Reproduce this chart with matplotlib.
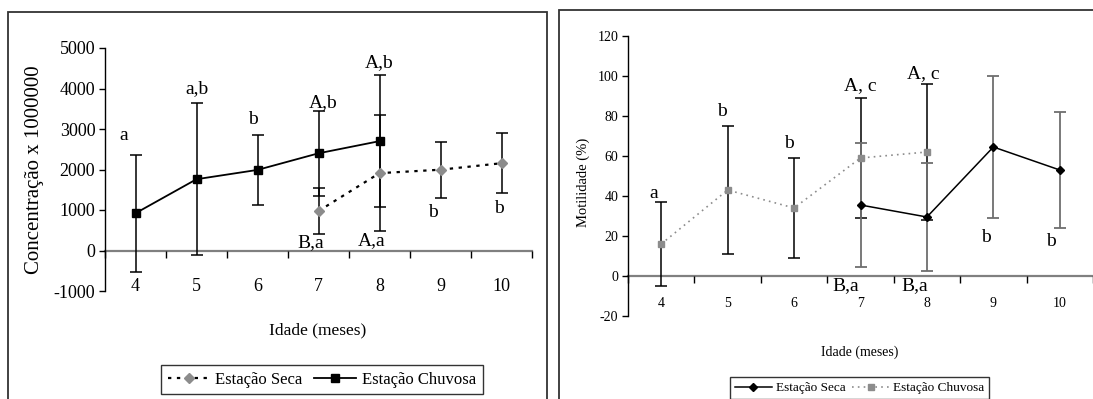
import matplotlib
matplotlib.use("Agg")
import matplotlib.pyplot as plt
from matplotlib.patches import Rectangle

plt.rcParams['font.family'] = ['Liberation Serif', 'DejaVu Serif']

# ---------------- data ----------------
meses = [4, 5, 6, 7, 8, 9, 10]

conc_chuvosa_x = [4, 5, 6, 7, 8]
conc_chuvosa = [920, 1760, 1990, 2400, 2700]
conc_chuvosa_err = [1450, 1880, 860, 1050, 1630]
conc_seca_x = [7, 8, 9, 10]
conc_seca = [975, 1910, 1995, 2155]
conc_seca_err = [575, 1440, 695, 740]

mot_chuvosa_x = [4, 5, 6, 7, 8]
mot_chuvosa = [16, 43, 34, 59, 62]
mot_chuvosa_err = [21, 32, 25, 30, 34]
mot_seca_x = [7, 8, 9, 10]
mot_seca = [35.5, 29.5, 64.5, 53]
mot_seca_err = [31, 27, 35.5, 29]

conc_letters = ["a", "a,b", "b", "A,b", "A,b", "B,a", "A,a", "b", "b"]
mot_letters = ["a", "b", "b", "A, c", "A, c", "B,a", "B,a", "b", "b"]

conc_yticks = [-1000, 0, 1000, 2000, 3000, 4000, 5000]
mot_yticks = [-20, 0, 20, 40, 60, 80, 100, 120]

# ---------------- layout ----------------
W, H = 1093, 399
fig = plt.figure(figsize=(W / 100, H / 100), dpi=100)

def frac_rect(x0, y0, x1, y1):
    return [x0 / W, 1 - y1 / H, (x1 - x0) / W, (y1 - y0) / H]

axL = fig.add_axes(frac_rect(105, 48, 532, 291))
axR = fig.add_axes(frac_rect(628, 36, 1093, 316))

GRAY = '#8c8c8c'
AXGRAY = '#808080'

def style_axes(ax, yticks, tick_fs, pad):
    ax.set_xlim(3.5, 10.5)
    ax.set_ylim(yticks[0], yticks[-1])
    ax.set_yticks(yticks)
    ax.set_yticklabels([str(t) for t in yticks], fontsize=tick_fs)
    for s in ['top', 'right']:
        ax.spines[s].set_visible(False)
    ax.spines['left'].set_color('black')
    ax.spines['left'].set_linewidth(1.0)
    ax.spines['bottom'].set_position(('data', 0))
    ax.spines['bottom'].set_color(AXGRAY)
    ax.spines['bottom'].set_linewidth(1.6)
    ax.spines['bottom'].set_zorder(1)
    bounds = [m - 0.5 for m in meses] + [meses[-1] + 0.5]
    ax.set_xticks(bounds)
    ax.set_xticklabels([''] * len(bounds))
    ax.set_xticks(meses, minor=True)
    ax.set_xticklabels([str(m) for m in meses], minor=True, fontsize=tick_fs)
    ax.tick_params(axis='x', which='major', direction='out', length=5,
                   color='black', width=1)
    ax.tick_params(axis='x', which='minor', length=0, pad=pad)
    ax.tick_params(axis='y', direction='out', length=4, width=1,
                   color='black', pad=3)
    ax.patch.set_alpha(0)

style_axes(axL, conc_yticks, 13, 20)
style_axes(axR, mot_yticks, 10, 15)

# ---------------- left chart ----------------
axL.errorbar(conc_chuvosa_x, conc_chuvosa, yerr=conc_chuvosa_err, fmt='none',
             ecolor='black', elinewidth=1.1, capsize=4.5, capthick=1.1, zorder=3)
axL.errorbar(conc_seca_x, conc_seca, yerr=conc_seca_err, fmt='none',
             ecolor='black', elinewidth=1.1, capsize=4.5, capthick=1.1, zorder=3)
axL.plot(conc_seca_x, conc_seca, linestyle=(0, (1.5, 2.5)), color='black', lw=1.6,
         marker='D', markersize=5, markerfacecolor=GRAY, markeredgecolor=GRAY,
         zorder=4, label='Estação Seca')
axL.plot(conc_chuvosa_x, conc_chuvosa, linestyle='-', color='black', lw=1.3,
         marker='s', markersize=6, markerfacecolor='black', markeredgecolor='black',
         zorder=5, label='Estação Chuvosa')

conc_lx = [3.8, 5.0, 5.93, 7.07, 8.0, 6.87, 7.87, 8.87, 9.95]
conc_ly = [2830, 4000, 3240, 3640, 4630, 200, 240, 940, 1040]
for t, x, y in zip(conc_letters, conc_lx, conc_ly):
    axL.text(x, y, t, ha='center', va='center', fontsize=14, zorder=6)

axL.set_xlabel('Idade (meses)', fontsize=12.5)
axL.xaxis.set_label_coords(0.497, -0.13)
axL.set_ylabel('Concentração x 1000000', fontsize=15)
axL.yaxis.set_label_coords(-0.143, 0.498)

# ---------------- right chart ----------------
axR.errorbar(mot_chuvosa_x, mot_chuvosa, yerr=mot_chuvosa_err, fmt='none',
             ecolor='black', elinewidth=1.1, capsize=4, capthick=1.1, zorder=3)
axR.errorbar(mot_seca_x, mot_seca, yerr=mot_seca_err, fmt='none',
             ecolor='#6e6e6e', elinewidth=1.3, capsize=4, capthick=1.3, zorder=3)
axR.plot(mot_seca_x, mot_seca, linestyle='-', color='black', lw=1.1,
         marker='D', markersize=4, markerfacecolor='black', markeredgecolor='black',
         zorder=5, label='Estação Seca')
axR.plot(mot_chuvosa_x, mot_chuvosa, linestyle=(0, (1, 2.5)), color=GRAY, lw=1.2,
         marker='s', markersize=4.5, markerfacecolor=GRAY, markeredgecolor=GRAY,
         zorder=4, label='Estação Chuvosa')

mot_lx = [3.88, 4.91, 5.92, 7.0, 7.95, 6.77, 7.82, 8.89, 9.86]
mot_ly = [41.5, 82.3, 66, 95.3, 101, -5, -5, 19.5, 17]
for t, x, y in zip(mot_letters, mot_lx, mot_ly):
    axR.text(x, y, t, ha='center', va='center', fontsize=14, zorder=6)

axR.set_xlabel('Idade (meses)', fontsize=10)
axR.xaxis.set_label_coords(0.498, -0.104)
axR.set_ylabel('Motilidade (%)', fontsize=10.5)
axR.yaxis.set_label_coords(-0.082, 0.479)

# ---------------- legends ----------------
hL, lL = axL.get_legend_handles_labels()
legL = fig.legend(hL, lL, loc='center', bbox_to_anchor=(322 / W, 1 - 379.5 / H),
                  ncol=2, fontsize=12, frameon=True, fancybox=False,
                  edgecolor='black', handlelength=2.5, columnspacing=0.7,
                  handletextpad=0.35, borderpad=0.4)
legL.get_frame().set_linewidth(1.0)

hR, lR = axR.get_legend_handles_labels()
legR = fig.legend(hR, lR, loc='center', bbox_to_anchor=(859.5 / W, 1 - 388 / H),
                  ncol=2, fontsize=9.5, frameon=True, fancybox=False,
                  edgecolor='black', handlelength=2.8, columnspacing=0.5,
                  handletextpad=0.3, borderpad=0.35)
legR.get_frame().set_linewidth(1.0)

# ---------------- panel borders ----------------
fig.patches.append(Rectangle((8 / W, -0.05), (547 - 8) / W, 1.05 - 12 / H,
                             transform=fig.transFigure, fill=False,
                             edgecolor='#333333', linewidth=1.3))
fig.patches.append(Rectangle((559 / W, -0.05), (1100 - 559) / W, 1.05 - 10 / H,
                             transform=fig.transFigure, fill=False,
                             edgecolor='#333333', linewidth=1.3))

fig.savefig('out.png', dpi=100, facecolor='white')
